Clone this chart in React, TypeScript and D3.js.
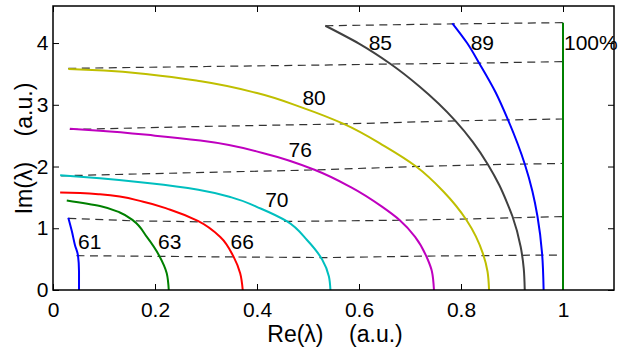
import { useEffect, useRef } from 'react'
import * as d3 from 'd3'

// contour curves (Re, Im)
const c61 = [[0.030, 1.17], [0.037, 0.95], [0.043, 0.73], [0.049, 0.56], [0.051, 0.3], [0.051, 0]]
const c63 = [[0.027, 1.45], [0.092, 1.36], [0.130, 1.26], [0.158, 1.12], [0.184, 0.86], [0.208, 0.56], [0.223, 0.27], [0.227, 0]]
const c66 = [[0.014, 1.58], [0.053, 1.57], [0.092, 1.55], [0.177, 1.43], [0.230, 1.30], [0.284, 1.12], [0.328, 0.86], [0.354, 0.54], [0.367, 0.27], [0.372, 0]]
const c70 = [[0.014, 1.86], [0.092, 1.81], [0.190, 1.73], [0.285, 1.625], [0.350, 1.50], [0.407, 1.32], [0.459, 1.11], [0.498, 0.81], [0.528, 0.49], [0.541, 0.22], [0.544, 0]]
const c76 = [[0.033, 2.61], [0.092, 2.58], [0.200, 2.50], [0.289, 2.42], [0.420, 2.20], [0.515, 1.94], [0.583, 1.67], [0.645, 1.35], [0.680, 1.13], [0.710, 0.86], [0.735, 0.49], [0.743, 0.3], [0.747, 0]]
const c80 = [[0.030, 3.58], [0.100, 3.555], [0.190, 3.49], [0.290, 3.38], [0.400, 3.19], [0.490, 2.95], [0.570, 2.69], [0.650, 2.33], [0.712, 2.0], [0.765, 1.6], [0.811, 1.13], [0.843, 0.59], [0.852, 0.3], [0.855, 0]]
const c85 = [[0.534, 4.28], [0.600, 3.99], [0.662, 3.66], [0.718, 3.30], [0.789, 2.74], [0.823, 2.40], [0.853, 2.03], [0.875, 1.70], [0.891, 1.40], [0.901, 1.19], [0.917, 0.70], [0.923, 0.35], [0.925, 0]]
const c89 = [[0.783, 4.32], [0.812, 4.0], [0.836, 3.67], [0.868, 3.2], [0.892, 2.76], [0.925, 2.04], [0.940, 1.6], [0.950, 1.19], [0.959, 0.59], [0.962, 0]]
const c100 = [[1, 0], [1, 4.33]]

const curves = [c61, c63, c66, c70, c76, c80, c85, c89, c100]
const curveColors = ['#0000ff', '#008000', '#ff0000', '#00bfbf', '#bf00bf', '#bfbf00', '#404040', '#0000ff', '#008000']

// dashed iso-lines
const isoA = [[0.046, 0.556], [0.208, 0.545], [0.354, 0.535], [0.541, 0.525], [0.735, 0.55], [0.96, 0.565], [1, 0.567]]
const isoB = [[0.030, 1.16], [0.158, 1.12], [0.284, 1.105], [0.459, 1.11], [0.682, 1.13], [0.811, 1.15], [0.901, 1.17], [1, 1.19]]
const isoC = [[0.016, 1.85], [0.30, 1.905], [0.515, 1.945], [0.712, 2.0], [0.853, 2.03], [1, 2.05]]
const isoD = [[0.033, 2.60], [0.30, 2.65], [0.570, 2.69], [0.789, 2.74], [0.892, 2.755], [1, 2.77]]
const isoE = [[0.030, 3.59], [0.30, 3.62], [0.544, 3.645], [0.662, 3.66], [0.836, 3.675], [1, 3.70]]
const isoF = [[0.534, 4.28], [0.783, 4.31], [1, 4.33]]
const isoLines = [isoA, isoB, isoC, isoD, isoE, isoF]

// curve labels: text, Re, Im of the baseline start
const labelText = ['61', '63', '66', '70', '76', '80', '85', '89', '100%']
const labelRe = [0.049, 0.206, 0.348, 0.416, 0.462, 0.489, 0.619, 0.819, 1.002]
const labelIm = [0.66, 0.66, 0.66, 1.35, 2.16, 3.0, 3.89, 3.89, 3.89]

const xTicks = [0, 0.2, 0.4, 0.6, 0.8, 1]
const yTicks = [0, 1, 2, 3, 4]

const W = 619
const H = 354
const margin = { top: 6, right: 5, bottom: 64, left: 53 }
const iw = W - margin.left - margin.right
const ih = H - margin.top - margin.bottom
const font = '"Liberation Sans", Arial, Helvetica, sans-serif'

const App = () => {
  const ref = useRef<SVGSVGElement>(null)

  useEffect(() => {
    const svg = d3.select(ref.current)
    svg.selectAll('*').remove()

    const x = d3.scaleLinear().domain([0, 1.1]).range([0, iw])
    const y = d3.scaleLinear().domain([0, 4.6]).range([ih, 0])

    const g = svg.append('g').attr('transform', `translate(${margin.left},${margin.top})`)

    const fmt = d3.format('~g')

    // axes (ticks point inward)
    const bottom = g.append('g').attr('transform', `translate(0,${ih})`)
      .call(d3.axisBottom(x).tickValues(xTicks).tickFormat(fmt as any).tickSize(-6).tickPadding(12))
    const left = g.append('g')
      .call(d3.axisLeft(y).tickValues(yTicks).tickFormat(fmt as any).tickSize(-6).tickPadding(4.5))
    const top = g.append('g')
      .call(d3.axisTop(x).tickValues(xTicks).tickFormat(() => '').tickSize(-6))
    const right = g.append('g').attr('transform', `translate(${iw},0)`)
      .call(d3.axisRight(y).tickValues(yTicks).tickFormat(() => '').tickSize(-6))

    ;[bottom, left, top, right].forEach(a => {
      a.select('.domain').remove()
      a.selectAll('line').attr('stroke', '#000').attr('stroke-width', 1)
      a.selectAll('text').attr('font-family', font).attr('font-size', 21).attr('fill', '#000')
    })

    const line = d3.line<number[]>().x(d => x(d[0])).y(d => y(d[1]))
    const smooth = d3.line<number[]>().x(d => x(d[0])).y(d => y(d[1])).curve(d3.curveMonotoneY)

    // dashed lines
    g.selectAll('path.iso')
      .data(isoLines)
      .enter()
      .append('path')
      .attr('class', 'iso')
      .attr('d', d => line(d))
      .attr('fill', 'none')
      .attr('stroke', '#333')
      .attr('stroke-width', 1.2)
      .attr('stroke-dasharray', '8,5.5')

    // curves (ordered bottom-up for the monotone interpolation)
    g.selectAll('path.curve')
      .data(curves)
      .enter()
      .append('path')
      .attr('class', 'curve')
      .attr('d', d => smooth(d.slice().sort((a, b) => a[1] - b[1])))
      .attr('fill', 'none')
      .attr('stroke', (_, i) => curveColors[i])
      .attr('stroke-width', 2)

    // labels
    g.selectAll('text.lab')
      .data(labelText)
      .enter()
      .append('text')
      .attr('class', 'lab')
      .attr('x', (_, i) => x(labelRe[i]))
      .attr('y', (_, i) => y(labelIm[i]))
      .attr('font-family', font)
      .attr('font-size', 21)
      .attr('fill', '#000')
      .text(d => d)

    // frame
    g.append('rect')
      .attr('width', iw)
      .attr('height', ih)
      .attr('fill', 'none')
      .attr('stroke', '#000')
      .attr('stroke-width', 1.5)

    // axis titles
    svg.append('text')
      .attr('x', 335)
      .attr('y', 341.5)
      .attr('text-anchor', 'middle')
      .attr('font-family', font)
      .attr('font-size', 23)
      .style('white-space', 'pre')
      .text('Re(λ)    (a.u.)')

    svg.append('text')
      .attr('transform', 'translate(32,148.5) rotate(-90)')
      .attr('text-anchor', 'middle')
      .attr('font-family', font)
      .attr('font-size', 23)
      .style('white-space', 'pre')
      .text('Im(λ)    (a.u.)')
  }, [])

  return (
    <div>
      <style>{'body{margin:0}'}</style>
      <svg ref={ref} width={W} height={H} style={{ display: 'block', background: '#fff' }}></svg>
    </div>
  )
}

export default App
